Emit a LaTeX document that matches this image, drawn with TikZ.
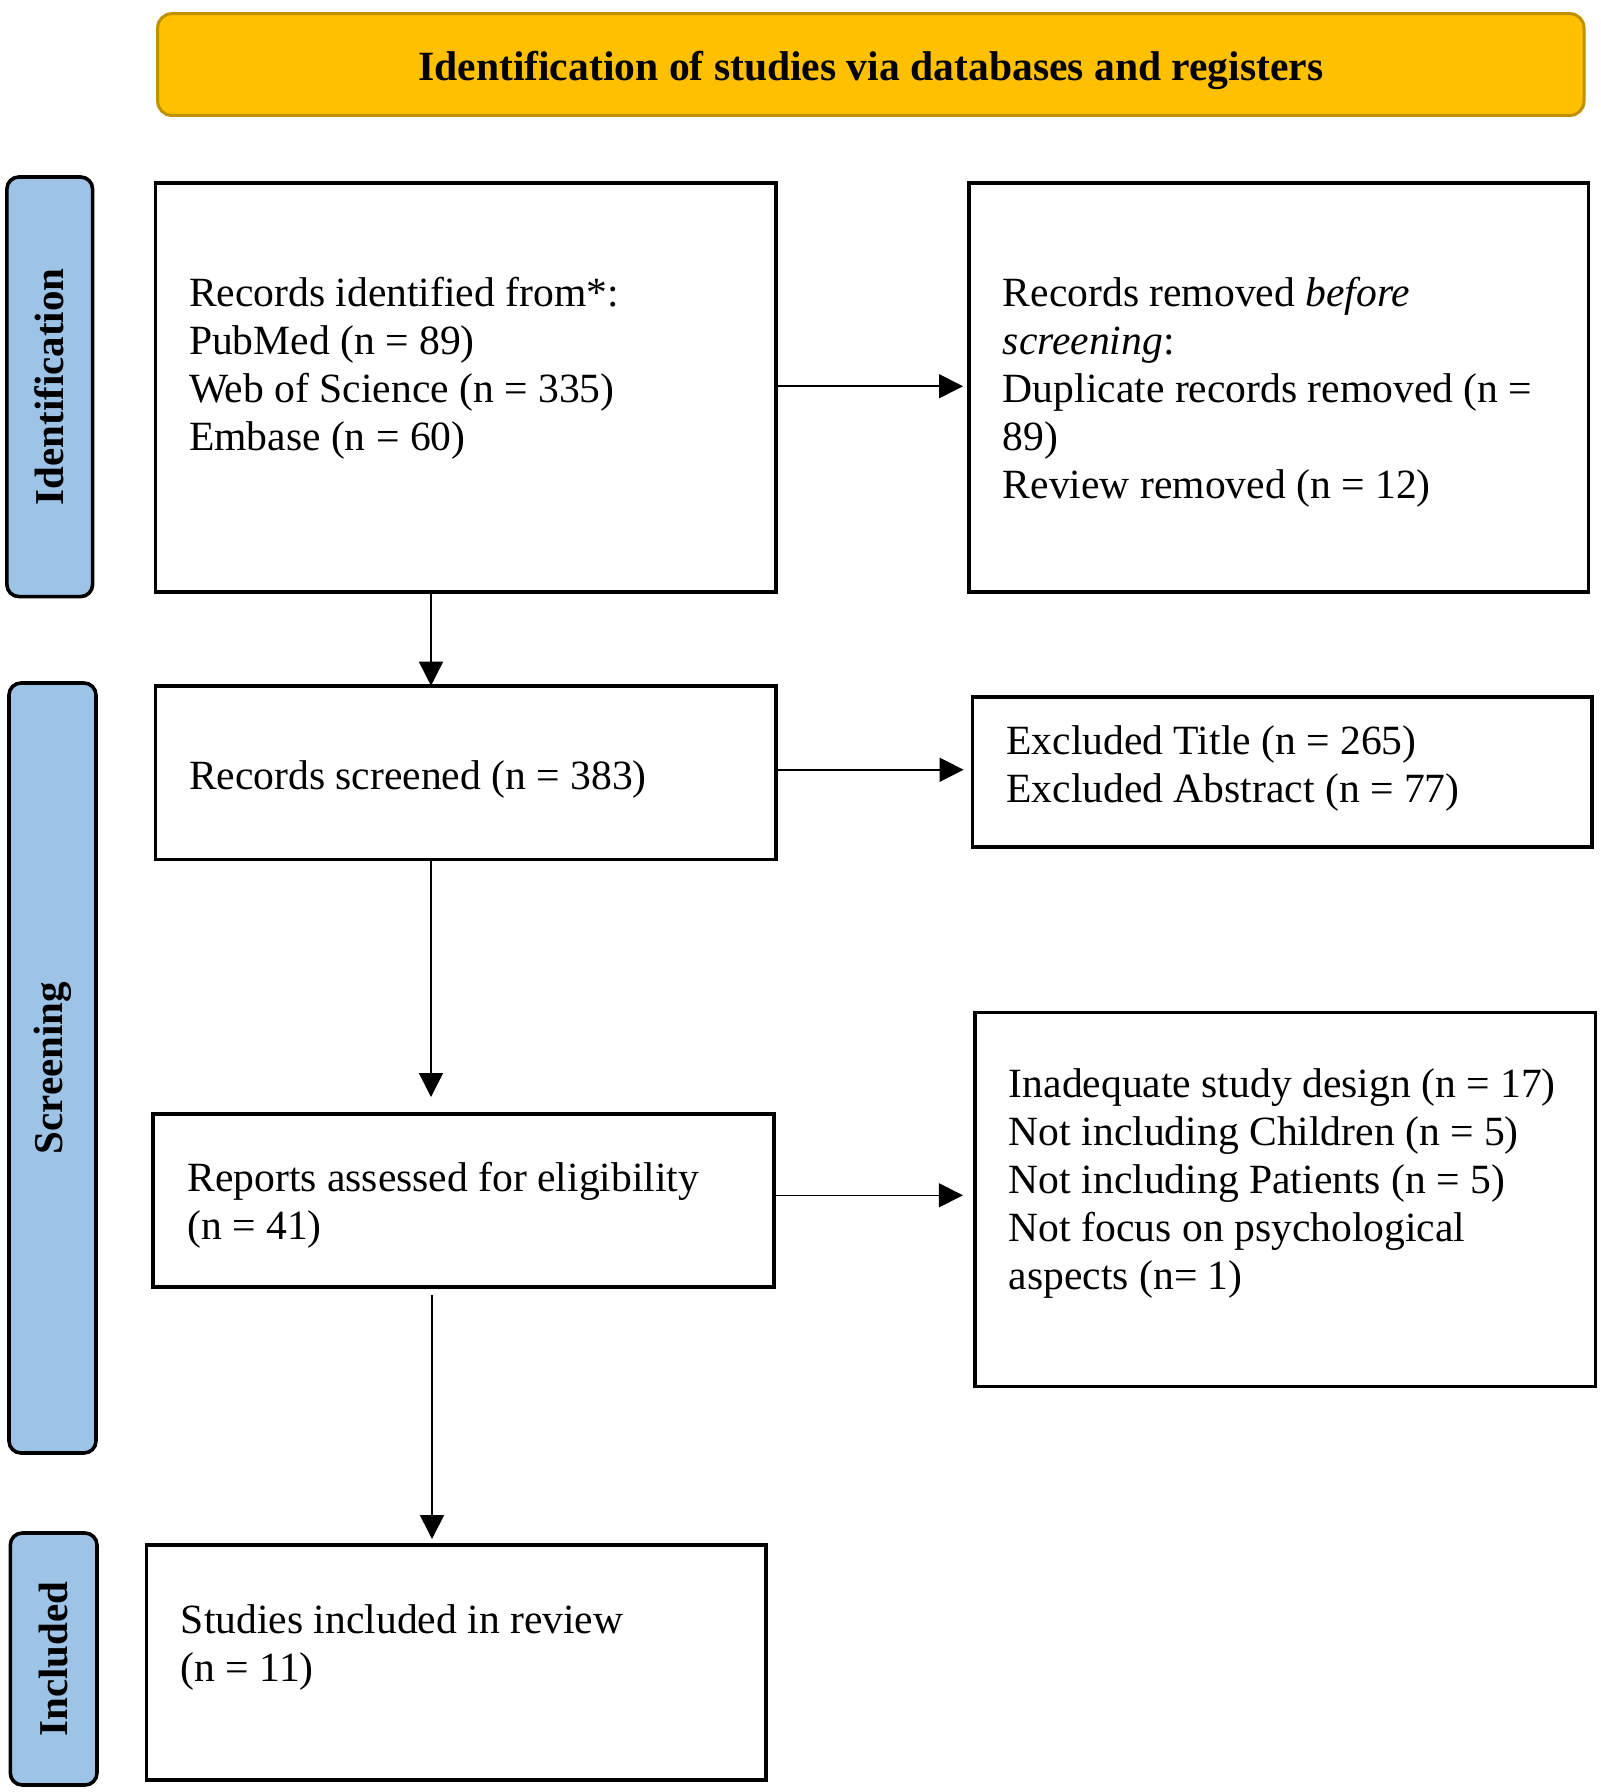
\documentclass[tikz,border=0pt]{standalone}
\usepackage{fontspec}
\setmainfont{Liberation Serif}
\usetikzlibrary{arrows.meta}
\definecolor{gold}{HTML}{FFC000}
\definecolor{golddark}{HTML}{BF9000}
\definecolor{sideblue}{HTML}{9DC3E6}
\newcommand\mybox[6][]{%
  \pgfmathsetmacro\mycx{(#3+#5)/2}%
  \pgfmathsetmacro\mycy{(#4+#6)/2}%
  \pgfmathsetmacro\mybw{(#5-#3)*0.5}%
  \pgfmathsetmacro\mybh{(#6-#4)*0.5}%
  \node[#1, minimum width=\mybw pt, minimum height=\mybh pt] (#2) at (\mycx,\mycy) {};}
\tikzset{
  box/.style={draw=black, line width=1.8pt, fill=white, inner sep=0pt, outer sep=0pt},
  side/.style={draw=black, fill=sideblue, line width=1.8pt, rounded corners=6pt, inner sep=0pt, outer sep=0pt},
  banner/.style={draw=golddark, fill=gold, line width=1.5pt, rounded corners=7pt, inner sep=0pt, outer sep=0pt},
  txt/.style={anchor=north west, inner sep=0pt, align=left, font=\fontsize{20.8}{24}\selectfont},
  sidetxt/.style={rotate=90, font=\fontsize{20.5}{24}\selectfont\bfseries, inner sep=0pt},
  bantxt/.style={font=\fontsize{20.8}{24}\selectfont\bfseries, inner sep=0pt},
  arr/.style={line width=0.8pt, -{Triangle[length=12pt,width=12pt]}},
}
\begin{document}
\begin{tikzpicture}[x=0.5pt,y=-0.5pt]
\useasboundingbox (0,0) rectangle (1600,1792);
% banner
\mybox[banner]{ban}{157.7}{13.7}{1584}{115.4}
\node[bantxt] (bant) at ([yshift=-3pt]ban.center) {Identification of studies via databases and registers};
% side labels
\mybox[side]{sI}{6.9}{177}{92.6}{596.6}
\node[sidetxt] (sIt) at (sI.center) {Identification};
\mybox[side]{sS}{9}{683}{96}{1453}
\node[sidetxt] (sSt) at (sS.center) {Screening};
\mybox[side]{sN}{10.3}{1533}{97}{1785}
\node[sidetxt] (sNt) at (sN.center) {Included};
% boxes
\mybox[box]{A}{155.4}{182.9}{776}{592}
\mybox[box]{B}{969}{182.9}{1588.6}{592}
\mybox[box]{C}{155.4}{685.7}{776}{859.4}
\mybox[box]{D}{972.6}{697}{1592}{846.9}
\mybox[box]{E}{153}{1114}{773.7}{1287}
\mybox[box]{F}{974.9}{1012.6}{1595.4}{1386.3}
\mybox[box]{G}{146.3}{1545}{765.7}{1780}
% texts
\node[txt] (At) at (188.6,272.4) {\strut Records identified from*:\\PubMed (n = 89)\\Web of Science (n = 335)\\Embase (n = 60)};
\node[txt] (Bt) at (1002.5,272.4) {\strut Records removed \textit{before}\\\textit{screening}:\\Duplicate records removed (n =\\89)\\Review removed (n = 12)};
\node[txt] (Ct) at (188.6,755.4) {\strut Records screened (n = 383)};
\node[txt] (Dt) at (1006,720.4) {\strut Excluded Title (n = 265)\\Excluded Abstract (n = 77)};
\node[txt] (Et) at (187,1157.4) {\strut Reports assessed for eligibility\\(n = 41)};
\node[txt] (Ft) at (1008.5,1063.4) {\strut Inadequate study design (n = 17)\\Not including Children (n = 5)\\Not including Patients (n = 5)\\Not focus on psychological\\aspects (n= 1)};
\node[txt] (Gt) at (180.5,1599.4) {\strut Studies included in review\\(n = 11)};
% connectors
\coordinate (col) at (431,0);
\coordinate (col2) at (432,0);
\draw[arr, shorten >=3pt] ([yshift=0.6pt]A.east) -- ([yshift=0.6pt]A.east -| B.west);
\draw[arr, shorten >=4.5pt] ([yshift=1.4pt]C.east) -- ([yshift=1.4pt]C.east -| D.west);
\draw[arr, shorten >=6pt] ([yshift=2.6pt]E.east) -- ([yshift=2.6pt]E.east -| F.west);
\draw[arr] (A.south -| col) -- (C.north -| col);
\draw[arr, shorten >=8.5pt] (C.south -| col) -- (E.north -| col);
\draw[arr, shorten >=3pt] ([yshift=-4pt]E.south -| col2) -- (G.north -| col2);
\end{tikzpicture}
\end{document}
